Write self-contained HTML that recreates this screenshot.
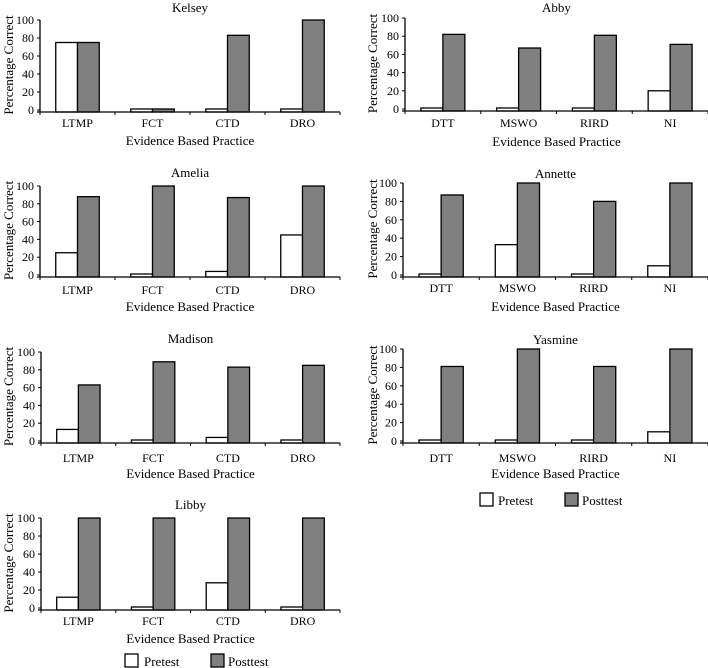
<!DOCTYPE html>
<html><head><meta charset="utf-8"><style>
html,body{margin:0;padding:0;background:#fff;}
svg{display:block;font-family:"Liberation Serif",serif;}
</style></head><body>
<svg id="fig" width="708" height="668" viewBox="0 0 708 668"></svg>
<script>
const catsLeft = ["LTMP","FCT","CTD","DRO"];
const catsRight = ["DTT","MSWO","RIRD","NI"];
const yTicks = [0,20,40,60,80,100];
const kelseyPre = [75,0,0,0];
const kelseyPost = [75,0,83,100];
const abbyPre = [0,0,0,20];
const abbyPost = [82,67,81,71];
const ameliaPre = [25,0,4,45];
const ameliaPost = [88,100,87,100];
const annettePre = [0,33,0,10];
const annettePost = [87,100,80,100];
const madisonPre = [13,0,4,0];
const madisonPost = [63,89,83,85];
const yasminePre = [0,0,0,10];
const yasminePost = [81,100,81,100];
const libbyPre = [12,0,28,0];
const libbyPost = [100,100,100,100];

const NS="http://www.w3.org/2000/svg";
const svg=document.getElementById('fig');
function mk(tag,attrs,parent){const e=document.createElementNS(NS,tag);for(const k in attrs)e.setAttribute(k,attrs[k]);(parent||svg).appendChild(e);return e;}

const panels=[
 {name:"Kelsey",cats:catsLeft,pre:kelseyPre,post:kelseyPost,x0:40,x1:340,yTop:20,yZero:110,title:7,lab:123,xt:140,yt:8},
 {name:"Abby",cats:catsRight,pre:abbyPre,post:abbyPost,x0:405,x1:708,yTop:18,yZero:109,title:7,lab:123,xt:141,yt:372},
 {name:"Amelia",cats:catsLeft,pre:ameliaPre,post:ameliaPost,x0:40,x1:340,yTop:186,yZero:275,title:172,lab:290,xt:306,yt:8},
 {name:"Annette",cats:catsRight,pre:annettePre,post:annettePost,x0:403,x1:708,yTop:183,yZero:275,title:173,lab:288,xt:306,yt:372},
 {name:"Madison",cats:catsLeft,pre:madisonPre,post:madisonPost,x0:41,x1:340,yTop:352,yZero:441,title:338,lab:458,xt:473,yt:8},
 {name:"Yasmine",cats:catsRight,pre:yasminePre,post:yasminePost,x0:403,x1:708,yTop:349,yZero:441,title:339,lab:458,xt:473,yt:372},
 {name:"Libby",cats:catsLeft,pre:libbyPre,post:libbyPost,x0:41,x1:340,yTop:518,yZero:608,title:504,lab:621,xt:638,yt:8}
];

panels.forEach(p=>{
  const g=mk('g',{});
  
  
  const yS=v=>p.yZero-(v/100)*(p.yZero-p.yTop);
  const cw=(p.x1-p.x0)/p.cats.length;
  const bw=cw*0.29;
  const axisY=p.yZero+2;
  const t=mk('text',{x:(p.x0+p.x1)/2,y:p.title+5,'text-anchor':'middle','font-size':13},g);
  t.textContent=p.name;
  
  
  // bars
  p.cats.forEach((c,i)=>{
    const cx=p.x0+cw*(i+0.5);
    [[p.pre[i],'#fff',cx-bw,'pretest'],[p.post[i],'#808080',cx,'posttest']].forEach(([v,f,x,s])=>{
      let y=yS(v); let h=axisY-y; if(h<3){h=3;y=axisY-3;}
      const r=mk('rect',{x:x,y:y,width:bw,height:h,fill:f,stroke:'#000','stroke-width':1.3},g);
      
      
    });
    const lb=mk('text',{x:cx,y:p.lab+4,'text-anchor':'middle','font-size':12},g);
    lb.textContent=c;
    
    
  });
  // axes
  const ax=mk('path',{d:`M${p.x0} ${p.yTop} V${axisY} M${p.x0-3} ${axisY} H${p.x1}`,stroke:'#000','stroke-width':1.3,fill:'none'},g);
  
  
  for(let i=0;i<=p.cats.length;i++){
    const x=p.x0+cw*i;
    mk('line',{x1:x,y1:axisY,x2:x,y2:axisY+3,stroke:'#000','stroke-width':1},g);
  }
  yTicks.forEach(v=>{
    const y=yS(v);
    mk('line',{x1:p.x0-3,y1:y,x2:p.x0,y2:y,stroke:'#000','stroke-width':1},g);
    const tl=mk('text',{x:p.x0-6,y:y+4,'text-anchor':'end','font-size':12},g);
    tl.textContent=v;
    
    
  });
  const xt=mk('text',{x:(p.x0+p.x1)/2,y:p.xt+5,'text-anchor':'middle','font-size':13},g);
  xt.textContent='Evidence Based Practice';
  
  
  const ym=(p.yTop+p.yZero)/2;
  const yt=mk('text',{x:p.yt+5,y:ym,'text-anchor':'middle','font-size':13,transform:`rotate(-90 ${p.yt+5} ${ym})`},g);
  yt.textContent='Percentage Correct';
  
  
});

function legend(bx1,tx1,bx2,tx2,y){
  const g=mk('g',{});
  
  
  mk('rect',{x:bx1,y:y-7,width:13,height:13,fill:'#fff',stroke:'#000','stroke-width':1.3},g);
  const a=mk('text',{x:tx1,y:y+5,'font-size':13},g);a.textContent='Pretest';
  
  
  mk('rect',{x:bx2,y:y-7,width:13,height:13,fill:'#808080',stroke:'#000','stroke-width':1.3},g);
  const b=mk('text',{x:tx2,y:y+5,'font-size':13},g);b.textContent='Posttest';
  
  
}
legend(480,498,565,582,500);
legend(125,144,211,228,661);
</script>
</body></html>
